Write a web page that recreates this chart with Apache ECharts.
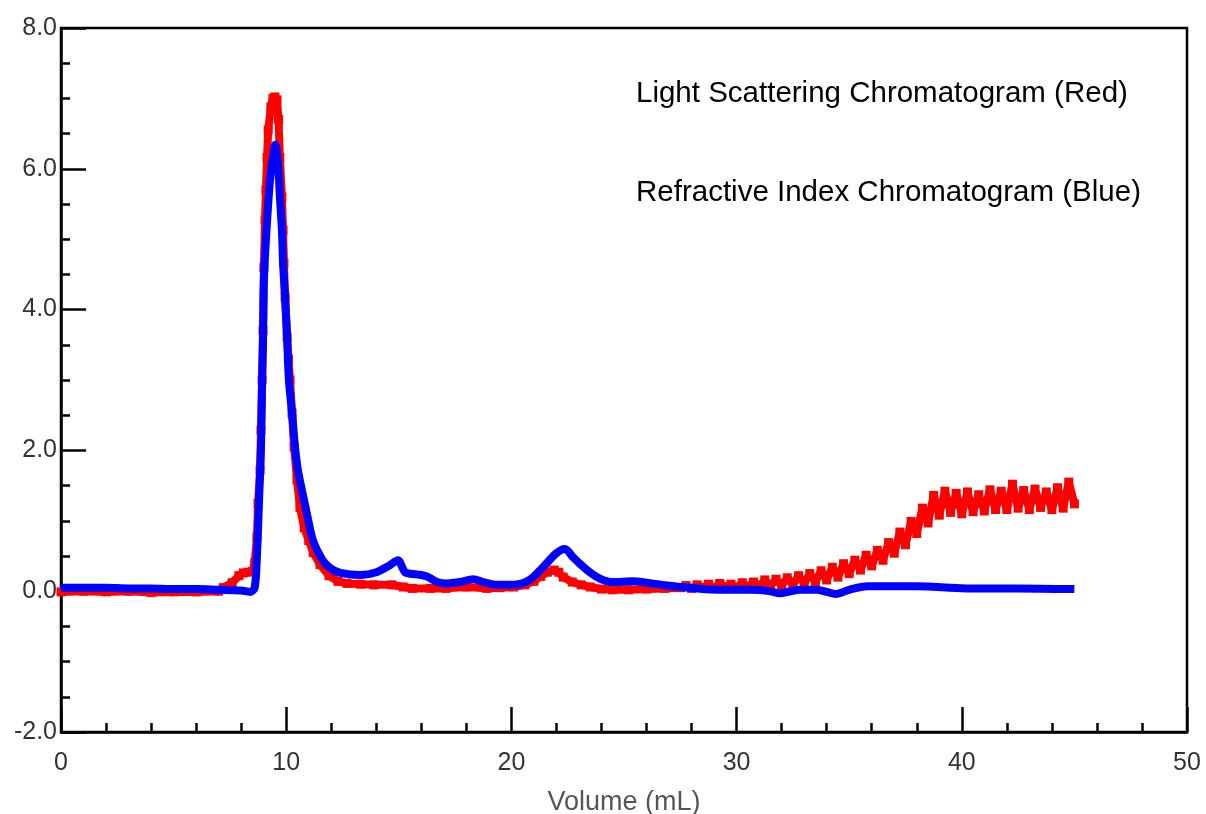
<!DOCTYPE html>
<html>
<head>
<meta charset="utf-8">
<script src="https://cdn.jsdelivr.net/npm/echarts@6/dist/echarts.min.js"></script>
<style>
  html, body { margin: 0; padding: 0; background: #fff; }
  #chart { width: 1206px; height: 814px; }
</style>
</head>
<body>
<div id="chart"></div>
<script>
// light scattering (red) - volume in mL / detector signal
var lsVolume = [0, 1, 2, 3, 4, 5, 6, 7, 7.2, 7.6, 7.9, 8.1, 8.3, 8.5, 8.6, 8.7, 8.75, 8.84, 8.88, 8.93,
    8.97, 9.01, 9.06, 9.1, 9.15, 9.2, 9.32, 9.41, 9.5, 9.59, 9.66, 9.72, 9.81, 9.86, 9.9, 9.95,
    10.04, 10.1, 10.17, 10.26, 10.35, 10.48, 10.61, 10.8, 11.0, 11.2, 11.5, 11.9, 12.3, 12.7, 13.3,
    13.9, 14.7, 15.2, 15.6, 16.4, 17.1, 18.0, 18.9, 19.5, 20.1, 20.6, 21.0, 21.3, 21.6, 21.9, 22.1,
    22.3, 22.7, 23.1, 23.5, 24.0, 24.5, 25.2, 26.0, 26.8, 27.5,
    27.75, 28.0, 28.25, 28.5, 28.75, 29.0, 29.25, 29.5, 29.75, 30.0, 30.25, 30.5, 30.75, 31.0,
    31.25, 31.5, 31.75, 32.0, 32.25, 32.5, 32.75, 33.0, 33.25, 33.5, 33.75, 34.0, 34.25, 34.5,
    34.75, 35.0, 35.25, 35.5, 35.75, 36.0, 36.25, 36.5, 36.75, 37.0, 37.25, 37.5, 37.75, 38.0,
    38.25, 38.5, 38.75, 39.0, 39.25, 39.5, 39.75, 40.0, 40.25, 40.5, 40.75, 41.0, 41.25, 41.5,
    41.75, 42.0, 42.25, 42.5, 42.75, 43.0, 43.25, 43.5, 43.75, 44.0, 44.25, 44.5, 44.75, 45.0];
var lsSignal = [-0.01, 0.0, -0.01, 0.0, -0.02, -0.01, -0.01, 0.0, 0.05, 0.12, 0.22, 0.26, 0.27, 0.28, 0.4, 0.77, 1.25, 1.72, 2.29, 3.0,
    3.7, 4.6, 5.27, 5.7, 6.16, 6.55, 6.88, 7.0, 7.02, 6.98, 6.7, 6.16, 5.6, 5.13, 4.66, 4.18,
    3.61, 3.3, 3.0, 2.53, 2.05, 1.58, 1.19, 0.9, 0.72, 0.55, 0.38, 0.22, 0.14, 0.11, 0.10,
    0.09, 0.09, 0.06, 0.04, 0.04, 0.04, 0.06, 0.04, 0.05, 0.06, 0.09, 0.14, 0.21, 0.27, 0.30, 0.27,
    0.2, 0.13, 0.09, 0.06, 0.03, 0.02, 0.02, 0.03, 0.04, 0.05,
    0.08, 0.04, 0.09, 0.05, 0.10, 0.04, 0.11, 0.06, 0.10, 0.05, 0.12, 0.06, 0.13, 0.07,
    0.16, 0.07, 0.17, 0.08, 0.19, 0.09, 0.22, 0.11, 0.25, 0.13, 0.29, 0.16, 0.34, 0.2,
    0.39, 0.25, 0.44, 0.3, 0.51, 0.36, 0.58, 0.44, 0.69, 0.54, 0.84, 0.66, 0.99, 0.82,
    1.18, 0.97, 1.36, 1.08, 1.42, 1.12, 1.39, 1.1, 1.41, 1.13, 1.37, 1.14, 1.44, 1.16,
    1.42, 1.16, 1.52, 1.18, 1.43, 1.16, 1.45, 1.19, 1.41, 1.16, 1.47, 1.18, 1.55, 1.24];

// refractive index (blue)
var riVolume = [0, 1, 2, 3, 4, 5, 6, 7, 8, 8.4, 8.6, 8.7, 8.8, 8.88, 8.93, 8.97, 9.01, 9.1, 9.19, 9.28,
    9.41, 9.52, 9.64, 9.72, 9.81, 9.86, 9.95, 10.04, 10.12, 10.26, 10.39, 10.52, 10.7, 10.92, 11.19,
    11.6, 11.95, 12.4, 13.3, 14.0, 14.6, 14.96, 15.28, 15.8, 16.25, 16.7, 17.14, 17.72, 18.3, 18.74,
    19.36, 20.07, 20.8, 21.4, 22.0, 22.38, 22.74, 23.36, 23.93, 24.5, 25.4, 26.0, 26.7, 27.5, 29.1,
    30.6, 31.5, 31.9, 32.4, 32.8, 33.56, 34.0, 34.4, 35.0, 35.8, 38.0, 40.2, 42.45, 45.0];
var riSignal = [0.05, 0.05, 0.05, 0.04, 0.04, 0.03, 0.03, 0.02, 0.01, -0.01, 0.05, 0.5, 1.34, 2.05, 3.0, 3.57, 4.42, 4.99, 5.45, 5.84,
    6.16, 6.34, 6.08, 5.6, 5.13, 4.66, 4.18, 3.61, 3.0, 2.53, 2.05, 1.72, 1.43, 1.1, 0.72,
    0.45, 0.33, 0.26, 0.23, 0.27, 0.37, 0.44, 0.27, 0.24, 0.21, 0.13, 0.11, 0.13, 0.17, 0.13,
    0.09, 0.09, 0.16, 0.34, 0.54, 0.6, 0.48, 0.3, 0.18, 0.13, 0.14, 0.12, 0.09, 0.06, 0.02,
    0.02, 0.0, -0.03, 0.0, 0.02, 0.02, -0.01, -0.04, 0.02, 0.07, 0.07, 0.04, 0.04, 0.03];

var lsLabel = 'Light Scattering Chromatogram (Red)';
var riLabel = 'Refractive Index Chromatogram (Blue)';

function pairs(xs, ys) {
    var out = [];
    for (var i = 0; i < xs.length; i++) out.push([xs[i], ys[i]]);
    return out;
}

var chart = echarts.init(document.getElementById('chart'));
var font = '"Liberation Sans", Arial, sans-serif';

chart.setOption({
    animation: false,
    backgroundColor: '#fff',
    grid: {
        left: 61, right: 19, top: 28, bottom: 82,
        outerBoundsMode: 'none',
        containLabel: false,
        show: true, borderColor: '#000', borderWidth: 2.5, backgroundColor: 'transparent'
    },
    xAxis: {
        type: 'value',
        min: 0, max: 50, interval: 10,
        name: 'Volume (mL)',
        nameLocation: 'middle',
        nameGap: 57,
        nameTextStyle: { fontFamily: font, fontSize: 27, color: '#555' },
        axisLine: { onZero: false, lineStyle: { color: '#000', width: 2.5 } },
        axisTick: { inside: true, length: 25, lineStyle: { color: '#000', width: 2.5 } },
        minorTick: { show: true, splitNumber: 5, length: 9, lineStyle: { color: '#000', width: 2.5 } },
        axisLabel: { fontFamily: font, fontSize: 25, color: '#333', margin: 19 },
        splitLine: { show: false }
    },
    yAxis: {
        type: 'value',
        min: -2, max: 8, interval: 2,
        axisLine: { show: true, onZero: false, lineStyle: { color: '#000', width: 2.5 } },
        axisTick: { show: true, inside: true, length: 25, lineStyle: { color: '#000', width: 2.5 } },
        minorTick: { show: true, splitNumber: 4, length: 9, lineStyle: { color: '#000', width: 2.5 } },
        axisLabel: {
            fontFamily: font, fontSize: 25, color: '#333', margin: 4,
            formatter: function (v) { return v.toFixed(1); }
        },
        splitLine: { show: false }
    },
    graphic: [
        { type: 'text', left: 636, top: 79, style: { text: lsLabel, font: '29.5px ' + font, fill: '#000' } },
        { type: 'text', left: 636, top: 178, style: { text: riLabel, font: '29.5px ' + font, fill: '#000' } }
    ],
    series: [{
        name: 'LS',
        type: 'line',
        data: pairs(lsVolume, lsSignal),
        symbol: 'rect',
        symbolSize: 9,
        showSymbol: true,
        itemStyle: { color: '#ff0000', borderWidth: 0 },
        lineStyle: { color: '#ff0000', width: 8, join: 'round' },
        z: 2
    }, {
        name: 'RI',
        type: 'line',
        data: pairs(riVolume, riSignal),
        smooth: 0.3,
        showSymbol: false,
        lineStyle: { color: '#0000ff', width: 8, join: 'round' },
        z: 3
    }]
});
</script>
</body>
</html>
